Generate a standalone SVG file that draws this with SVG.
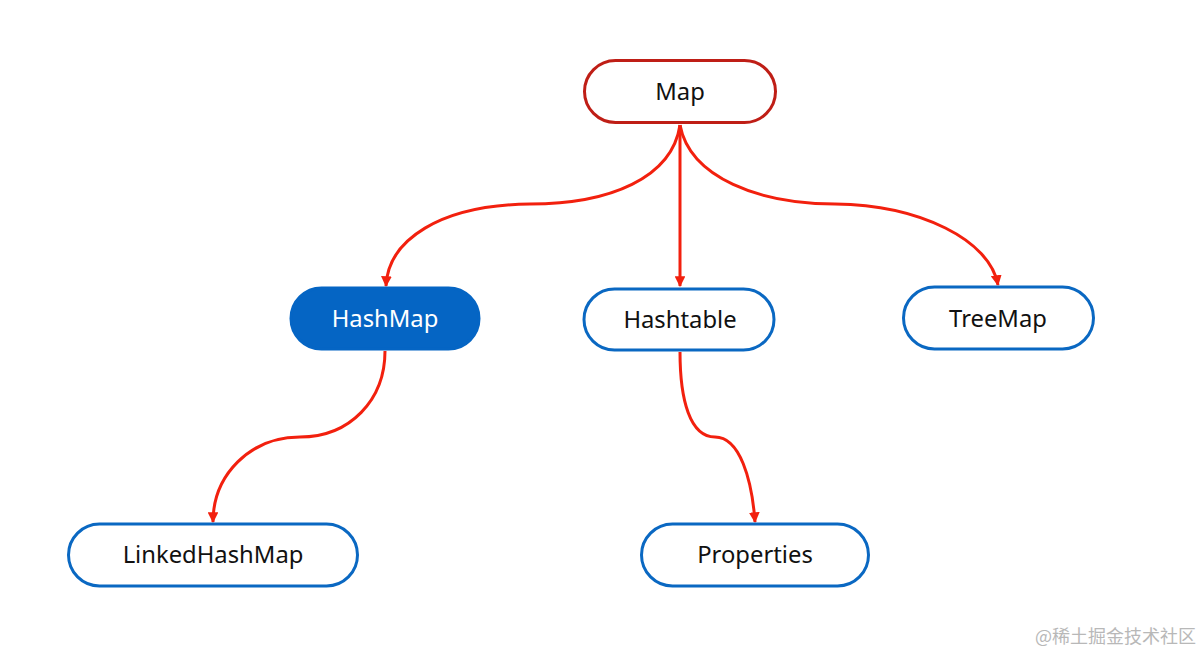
<svg xmlns="http://www.w3.org/2000/svg" width="1201" height="654" viewBox="0 0 1201 654">
<defs>
<style>
.node{fill:#ffffff;stroke:#0a68c2;stroke-width:3}
.root{fill:#ffffff;stroke:#bf1e16;stroke-width:3}
.sel{fill:#0565c4;stroke:#0565c4;stroke-width:3}
.lbl{font-family:"Noto Sans","Open Sans",sans-serif;font-size:23.8px;fill:#111111;text-anchor:middle;dominant-baseline:central}
.lblw{fill:#ffffff}
.edge{fill:none;stroke:#f2200e;stroke-width:3;marker-end:url(#ah)}
.wm{font-family:"Noto Sans CJK SC",sans-serif;font-size:18px;fill:#b8b8b8;text-anchor:end}
</style>
<marker id="ah" viewBox="0 0 10 10" refX="9" refY="5" markerWidth="3.6" markerHeight="3.6" markerUnits="strokeWidth" orient="auto">
<path d="M0,0 L10,5 L0,10 z" fill="#f2200e"/>
</marker>
</defs>
<rect x="0" y="0" width="1201" height="654" fill="#ffffff"/>
<g id="connectors">
<path class="edge" d="M680,125 C672,178 610,204 530,204 C440,205 388,240 386,286"/>
<path class="edge" d="M680,125 L680,286"/>
<path class="edge" d="M680,125 C690,178 760,204 835,204 C920,205 990,240 998,285"/>
<path class="edge" d="M385,351 C385,400 350,437 300,437 C250,437 213,475 213,522"/>
<path class="edge" d="M680,352 C680,400 690,437 715,437 C740,437 752,480 755,522"/>
</g>
<g id="map">
<rect class="root" x="584.5" y="60.5" width="191" height="62" rx="31"/>
<text class="lbl" x="680" y="91">Map</text>
</g>
<g id="hashmap">
<rect class="sel" x="291" y="288" width="188" height="61" rx="30.5"/>
<text class="lbl lblw" x="385" y="318">HashMap</text>
</g>
<g id="hashtable">
<rect class="node" x="584" y="289" width="190" height="61" rx="30.5"/>
<text class="lbl" x="680" y="319">Hashtable</text>
</g>
<g id="treemap">
<rect class="node" x="903.5" y="287" width="190" height="62" rx="31"/>
<text class="lbl" x="998" y="318">TreeMap</text>
</g>
<g id="linkedhashmap">
<rect class="node" x="68.5" y="524" width="289" height="62" rx="31"/>
<text class="lbl" x="213" y="554">LinkedHashMap</text>
</g>
<g id="properties">
<rect class="node" x="641.5" y="524" width="227" height="62" rx="31"/>
<text class="lbl" x="755" y="554">Properties</text>
</g>
<text class="wm" x="1196" y="643">@稀土掘金技术社区</text>
</svg>
